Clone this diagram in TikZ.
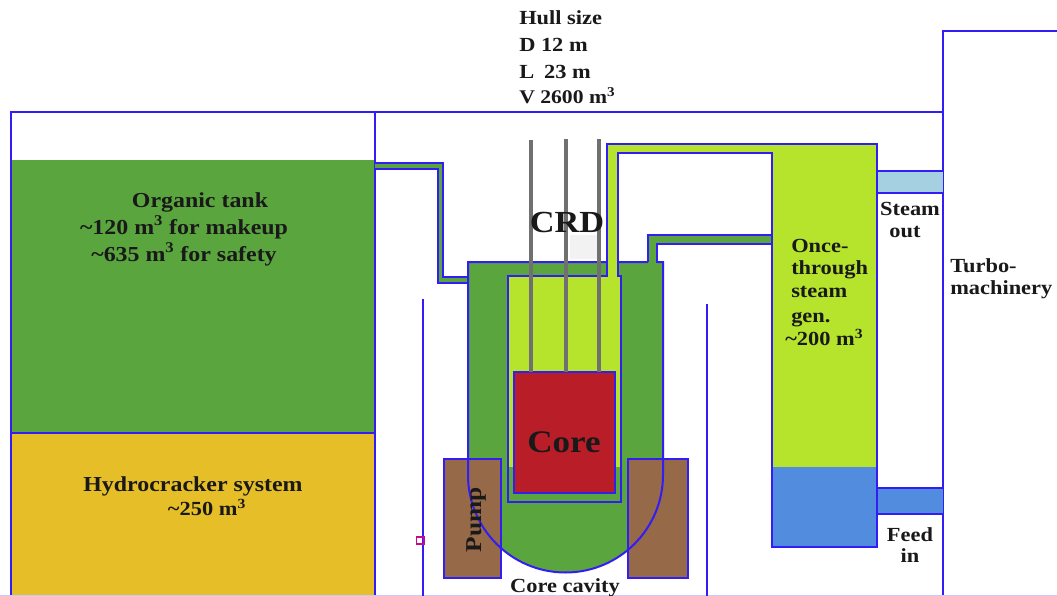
\documentclass[tikz,border=0pt]{standalone}
\usepackage{fontspec}
\setmainfont[FakeStretch=1.12]{Liberation Serif}
\definecolor{lineblue}{RGB}{50,30,245}
\definecolor{tankgreen}{RGB}{90,165,62}
\definecolor{lime}{RGB}{182,228,44}
\definecolor{gold}{RGB}{230,190,40}
\definecolor{corered}{RGB}{185,30,40}
\definecolor{pumpbrown}{RGB}{150,105,72}
\definecolor{feedblue}{RGB}{82,140,222}
\definecolor{steamblue}{RGB}{165,208,226}
\definecolor{rodgray}{RGB}{112,112,112}
\newcommand{\sq}{\textsuperscript{3}}
\newcommand{\tl}{\textasciitilde}
\tikzset{
  thin wall/.style={draw=lineblue,line width=1.5pt},
  rod/.style={draw=rodgray,line width=3pt},
  lab/.style={inner sep=0pt,anchor=base,font=\fontsize{15}{15}\selectfont\bfseries,text=black!90},
  lableft/.style={lab,anchor=base west},
  tanklab/.style={lab,font=\fontsize{16}{16}\selectfont\bfseries},
}
\begin{document}
\begin{tikzpicture}[x=0.75pt,y=-0.75pt]
\useasboundingbox (0,0) rectangle (1057,596);
\fill[white] (0,0) rectangle (1057,596);
% tanks
\fill[tankgreen] (12,160) rectangle (375,433);
\fill[gold] (12,433) rectangle (375,596);
\draw[thin wall] (11,596) -- (11,112) -- (943,112);
\draw[thin wall] (375,112) -- (375,596);
\draw[thin wall] (12,433) -- (375,433);
\draw[thin wall] (943,596) -- (943,31) -- (1057,31);
\draw[draw=lineblue!25,line width=0.8pt] (0,595.5) -- (1057,595.5);
% stray walls
\draw[thin wall] (423,299) -- (423,596);
\draw[thin wall] (707,304) -- (707,596);
\draw[draw=magenta!80!blue,line width=0.9pt] (416.5,537) rectangle (424,544);
% left pipe
\fill[tankgreen] (375,163) -- (443,163) -- (443,277) -- (468,277) -- (468,283) -- (438,283) -- (438,169) -- (375,169) -- cycle;
\draw[thin wall] (375,163) -- (443,163) -- (443,277) -- (468,277);
\draw[thin wall] (375,169) -- (438,169) -- (438,283) -- (468,283);
% vessel
\fill[tankgreen] (468,262) -- (663,262) -- (663,475) arc[start angle=0,end angle=180,x radius=97.5,y radius=97.5] -- cycle;
% right green pipe
\fill[tankgreen] (648,262) -- (648,235) -- (772,235) -- (772,244) -- (657,244) -- (657,262) -- cycle;
% barrel
\fill[lime] (508,276) rectangle (621,467);
% lime pipe
\fill[lime] (607,276) -- (607,144) -- (877,144) -- (877,467) -- (772,467) -- (772,153) -- (618,153) -- (618,276) -- cycle;
\fill[feedblue] (772,467) rectangle (877,547);
\fill[steamblue] (877,171) rectangle (943,193);
\fill[feedblue] (877,488) rectangle (943,514);
\draw[thin wall] (877,171) -- (943,171) (877,193) -- (943,193) (877,488) -- (943,488) (877,514) -- (943,514);
% barrel outlines
\fill[tankgreen] (508,467) rectangle (621,502);
\draw[thin wall] (508,502) -- (508,276) -- (607,276) -- (607,144) -- (877,144) -- (877,547) -- (772,547) -- (772,153) -- (618,153) -- (618,276) -- (621,276) -- (621,502) -- cycle;
\draw[thin wall] (648,262) -- (648,235) -- (772,235) (772,244) -- (657,244) -- (657,262) -- (663,262);
\fill[corered] (514,372) rectangle (615,493);
\draw[thin wall] (514,372) rectangle (615,493);
% pumps
\fill[pumpbrown] (444,459) rectangle (501,578);
\fill[pumpbrown] (628,459) rectangle (688,578);
\draw[thin wall] (444,459) rectangle (501,578);
\draw[thin wall] (628,459) rectangle (688,578);
% vessel outline on top
\draw[thin wall] (468,283) -- (468,262) -- (607,262) (618,262) -- (648,262) (657,262) -- (663,262) -- (663,475) arc[start angle=0,end angle=180,x radius=97.5,y radius=97.5] -- (468,283);
% CRD patch and rods
\fill[black!5] (570,235) rectangle (597,259);
\draw[rod] (531,140) -- (531,372);
\draw[rod] (565.5,139) -- (565.5,372);
\draw[rod] (599,139) -- (599,372);
% labels
\node[lableft] (h1) at (519,24) {Hull size};
\node[lableft] (h2) at (519,51) {D 12 m};
\node[lableft] (h3) at (519,78) {L\,\,\,23 m};
\node[lableft,font=\fontsize{14.5}{15}\selectfont\bfseries] (h4) at (519,103) {V 2600 m\sq};
\node[tanklab] (o1) at (200,207) {Organic tank};
\node[tanklab] (o2) at (184,234) {\tl120 m\sq{} for makeup};
\node[tanklab] (o3) at (184,261) {\tl635 m\sq{} for safety};
\node[tanklab] (hc1) at (193,491) {Hydrocracker system};
\node[lab] (hc2) at (207,515) {\tl250 m\sq};
\node[lab,font=\fontsize{23}{23}\selectfont\bfseries] (crd) at (567,232) {CRD};
\node[lab,font=\fontsize{23.5}{24}\selectfont\bfseries] (core) at (564,452) {Core};
\node[lab] (cav) at (565,592) {Core cavity};
\node[lab,rotate=90,font=\fontsize{17}{17}\selectfont\bfseries] (pump) at (481,520) {Pump};
\node[lableft] (s1) at (791,252) {Once-};
\node[lableft] (s2) at (791,274) {through};
\node[lableft] (s3) at (791,297) {steam};
\node[lableft] (s4) at (791,322) {gen.};
\node[lableft] (s5) at (785,345) {\tl200 m\sq};
\node[lab] (so1) at (910,215) {Steam};
\node[lab] (so2) at (905,237) {out};
\node[lableft] (t1) at (950,272) {Turbo-};
\node[lableft] (t2) at (950,294) {machinery};
\node[lab] (f1) at (910,541) {Feed};
\node[lab] (f2) at (910,562) {in};
\end{tikzpicture}
\end{document}
